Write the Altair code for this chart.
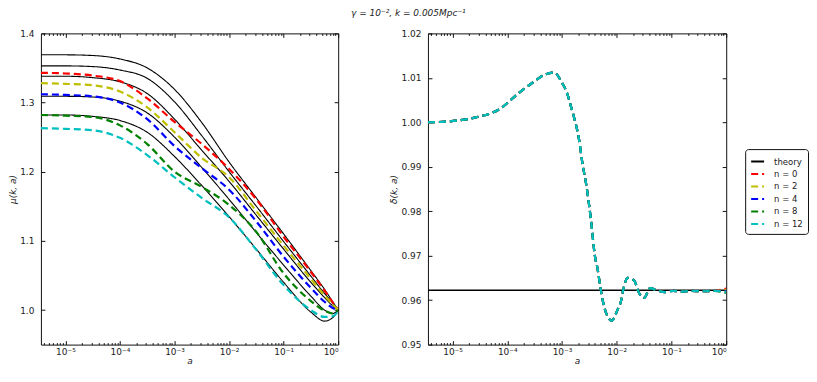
import altair as alt
import pandas as pd

A_MIN = 3.55e-6

# ---------------- left panel: mu(k, a) ----------------
a_mu = [3.55e-6, 1e-5, 3.16e-5, 1e-4, 3.16e-4, 1e-3, 3.16e-3, 1e-2, 3.16e-2, 0.1, 0.316, 0.562, 0.794, 1.0]

mu_theory_1 = [1.369, 1.369, 1.368, 1.363, 1.350, 1.319, 1.271, 1.214, 1.162, 1.110, 1.057, 1.030, 1.012, 1.000]
mu_theory_2 = [1.353, 1.353, 1.352, 1.347, 1.335, 1.301, 1.252, 1.200, 1.150, 1.099, 1.049, 1.024, 1.010, 1.000]
mu_theory_3 = [1.338, 1.338, 1.336, 1.330, 1.313, 1.276, 1.231, 1.186, 1.137, 1.088, 1.040, 1.018, 1.006, 1.000]
mu_theory_4 = [1.309, 1.309, 1.308, 1.302, 1.285, 1.250, 1.206, 1.160, 1.112, 1.065, 1.020, 1.000, 0.995, 1.000]
mu_theory_5 = [1.282, 1.282, 1.280, 1.274, 1.257, 1.222, 1.180, 1.135, 1.088, 1.040, 0.997, 0.984, 0.989, 1.000]

mu_n0 = [1.343, 1.342, 1.339, 1.331, 1.306, 1.272, 1.240, 1.204, 1.160, 1.106, 1.055, 1.028, 1.011, 1.000]
mu_n2 = [1.328, 1.327, 1.325, 1.316, 1.293, 1.257, 1.220, 1.192, 1.143, 1.093, 1.045, 1.021, 1.008, 1.000]
mu_n4 = [1.312, 1.311, 1.309, 1.300, 1.276, 1.237, 1.205, 1.174, 1.128, 1.077, 1.032, 1.012, 1.003, 1.000]
mu_n8 = [1.282, 1.281, 1.279, 1.267, 1.240, 1.200, 1.178, 1.152, 1.113, 1.053, 1.013, 0.999, 0.995, 1.000]
mu_n12 = [1.263, 1.262, 1.260, 1.249, 1.224, 1.192, 1.162, 1.134, 1.087, 1.036, 1.000, 0.990, 0.991, 0.998]

# ---------------- right panel: delta(k, a) ----------------
log_a_delta = [-5.45, -5.06, -4.58, -4.15, -3.78, -3.54, -3.30, -3.145, -3.0, -2.9, -2.84, -2.78,
               -2.69, -2.63, -2.55, -2.47, -2.40, -2.35, -2.29, -2.25, -2.20, -2.09, -1.99, -1.92,
               -1.88, -1.80, -1.68, -1.60, -1.50, -1.39, -1.26, -1.12, -0.97, -0.80, -0.65, -0.43,
               -0.22, 0.0]
delta_common = [1.0000, 1.0002, 1.0011, 1.0029, 1.0067, 1.0089, 1.0108, 1.0112, 1.0089, 1.0063, 1.0037, 1.0011,
                0.9962, 0.9910, 0.9854, 0.9779, 0.9700, 0.9670, 0.9622, 0.9596, 0.9573, 0.9554, 0.9577, 0.9599,
                0.9624, 0.9650, 0.9644, 0.9618, 0.9605, 0.9627, 0.9622, 0.9618, 0.9621, 0.9619, 0.9621, 0.9620,
                0.9621]
delta_end = {"n = 0": 0.9626, "n = 2": 0.9623, "n = 4": 0.9620, "n = 8": 0.9616, "n = 12": 0.9618}
delta_theory = 0.9622

labels = ["theory", "n = 0", "n = 2", "n = 4", "n = 8", "n = 12"]
colors = ["#000000", "#ff0000", "#bfbf00", "#0000ff", "#008000", "#00bfbf"]
dashes = [[1, 0], [7, 4], [7, 4], [7, 4], [7, 4], [7, 4]]

major_x = [1e-5, 1e-4, 1e-3, 1e-2, 1e-1, 1.0]
major_x_labels = ["10⁻⁵", "10⁻⁴", "10⁻³", "10⁻²", "10⁻¹", "10⁰"]
minor_x = [m * 10.0 ** k for k in range(-6, 0) for m in range(2, 10) if m * 10.0 ** k >= A_MIN]

mu_ticks = [1.0, 1.1, 1.2, 1.3, 1.4]
delta_ticks = [0.95, 0.96, 0.97, 0.98, 0.99, 1.00, 1.01, 1.02]

# ---------------- tables ----------------
rows = []
for i, vals in enumerate([mu_theory_1, mu_theory_2, mu_theory_3, mu_theory_4, mu_theory_5]):
    for a, v in zip(a_mu, vals):
        rows.append({"a": a, "v": v, "label": "theory", "curve": f"T{i}"})
mu_theory_df = pd.DataFrame(rows)

rows = []
for lab, vals in zip(labels[1:], [mu_n0, mu_n2, mu_n4, mu_n8, mu_n12]):
    for a, v in zip(a_mu, vals):
        rows.append({"a": a, "v": v, "label": lab, "curve": lab})
mu_sim_df = pd.DataFrame(rows)

delta_theory_df = pd.DataFrame({"a": [A_MIN, 1.0], "v": [delta_theory, delta_theory],
                                "label": ["theory", "theory"], "curve": ["T", "T"]})
rows = []
for lab in labels[1:]:
    vals = delta_common + [delta_end[lab]]
    for la, v in zip(log_a_delta, vals):
        rows.append({"a": 10.0 ** la, "v": v, "label": lab, "curve": lab})
delta_sim_df = pd.DataFrame(rows)

# ---------------- styling ----------------
FONT = "DejaVu Sans"
label_expr = ""
for val, txt in zip(major_x, major_x_labels):
    label_expr += f"datum.value < {val * 3.0} ? '{txt}' : "
label_expr += "''"

color = alt.Color("label:N", scale=alt.Scale(domain=labels, range=colors), legend=alt.Legend(title=None))
dash = alt.StrokeDash("label:N", scale=alt.Scale(domain=labels, range=dashes), legend=alt.Legend(title=None))


def panel(theory_df, sim_df, ydom, yvals, yfmt, ytitle, theory_width, width):
    xs = alt.Scale(type="log", domain=[A_MIN, 1.0], nice=False)
    ys = alt.Scale(domain=ydom, nice=False, zero=False)
    base_ax = dict(domain=False, grid=False, tickColor="#111", labelFont=FONT, labelFontSize=9,
                   labelColor="#222", titleFont=FONT, titleFontSize=9, titleFontWeight="normal",
                   titleFontStyle="italic", titleColor="#222")
    ax_xb = alt.Axis(orient="bottom", values=major_x, tickSize=4, offset=-4, labelExpr=label_expr,
                     labelPadding=3, title="a", titlePadding=0, **base_ax)
    ax_xb_minor = alt.Axis(orient="bottom", values=minor_x, tickSize=2, offset=-2, labels=False,
                           title=None, **base_ax)
    ax_xt = alt.Axis(orient="top", values=major_x, tickSize=4, offset=-4, labels=False, title=None, **base_ax)
    ax_xt_minor = alt.Axis(orient="top", values=minor_x, tickSize=2, offset=-2, labels=False, title=None, **base_ax)
    ax_yl = alt.Axis(orient="left", values=yvals, format=yfmt, tickSize=4, offset=-4, labelPadding=7,
                     title=ytitle, titlePadding=2, **base_ax)
    ax_yr = alt.Axis(orient="right", values=yvals, tickSize=4, offset=-4, labels=False, title=None, **base_ax)

    l1 = alt.Chart(theory_df).mark_line(strokeWidth=theory_width, interpolate="monotone", clip=True).encode(
        x=alt.X("a:Q", scale=xs, axis=ax_xb), y=alt.Y("v:Q", scale=ys, axis=ax_yl),
        color=color, strokeDash=dash, detail="curve:N")
    l2 = alt.Chart(sim_df).mark_line(strokeWidth=2.2, interpolate="monotone", clip=True).encode(
        x=alt.X("a:Q", scale=xs, axis=ax_xb_minor), y=alt.Y("v:Q", scale=ys, axis=ax_yr),
        color=color, strokeDash=dash, detail="curve:N")
    l3 = alt.Chart(theory_df).mark_line(strokeOpacity=0, clip=True).encode(
        x=alt.X("a:Q", scale=xs, axis=ax_xt), y=alt.Y("v:Q", scale=ys, axis=None), detail="curve:N")
    l4 = alt.Chart(theory_df).mark_line(strokeOpacity=0, clip=True).encode(
        x=alt.X("a:Q", scale=xs, axis=ax_xt_minor), y=alt.Y("v:Q", scale=ys, axis=None), detail="curve:N")
    return alt.layer(l1, l2, l3, l4).resolve_axis(x="independent", y="independent").properties(
        width=width, height=312)


left = panel(mu_theory_df, mu_sim_df, [0.95, 1.4], mu_ticks, ".1f", "μ(k, a)", 1.1, 298)
right = panel(delta_theory_df, delta_sim_df, [0.95, 1.02], delta_ticks, ".2f", "δ(k, a)", 1.5, 299)

chart = alt.hconcat(left, right, spacing=90, bounds="flush").properties(
    title=alt.TitleParams("γ = 10⁻², k = 0.005Mpc⁻¹", font=FONT, fontSize=9, fontStyle="italic",
                          fontWeight="normal", anchor="middle", offset=11, color="#222"),
    padding={"left": 0, "top": 0, "right": 0, "bottom": 0},
).configure_view(stroke="#111", strokeWidth=1).configure_legend(
    orient="none", legendX=706, legendY=116, strokeColor="#111", fillColor="white", padding=5,
    cornerRadius=3, labelFont=FONT, labelFontSize=8.5, labelColor="#222", symbolType="stroke",
    symbolSize=169, symbolStrokeWidth=2, rowPadding=0.5, labelOffset=9,
)

chart.save("out.html", embed_options={"renderer": "svg", "actions": False})
